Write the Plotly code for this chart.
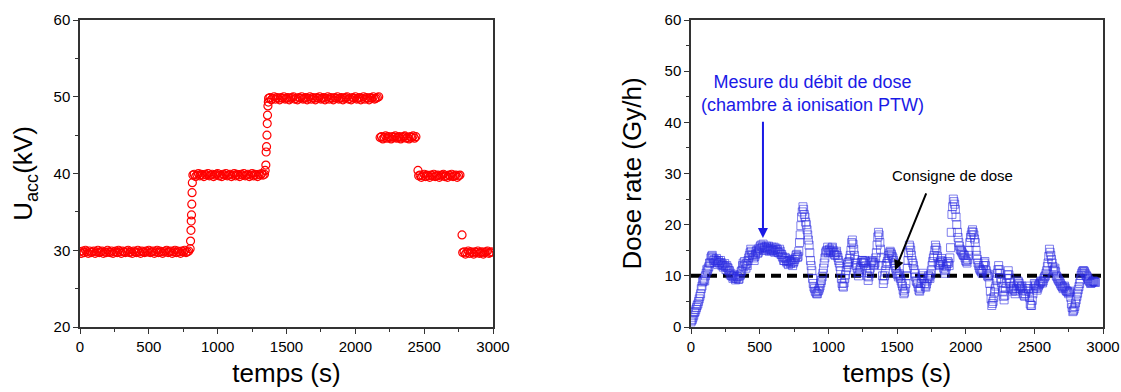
import plotly.graph_objects as go

# ---------------- Left panel data (U_acc vs time) ----------------
t_a = list(range(0, 800, 10))
u_a = [29.8, 29.6, 29.9, 29.7, 30.0, 29.8, 29.6, 29.9, 29.7, 29.8,
       29.9, 29.6, 29.8, 30.0, 29.7, 29.8, 29.9, 29.6, 29.8, 29.7,
       30.0, 29.8, 29.7, 29.9, 29.6, 29.8, 29.9, 29.7, 30.0, 29.8,
       29.6, 29.9, 29.8, 29.7, 29.9, 30.0, 29.7, 29.8, 29.6, 29.9,
       29.8, 29.7, 30.0, 29.8, 29.6, 29.9, 29.8, 29.7, 29.9, 29.8,
       30.0, 29.7, 29.8, 29.9, 29.6, 29.8, 30.0, 29.7, 29.9, 29.8,
       29.6, 29.8, 29.9, 30.0, 29.7, 29.8, 29.9, 29.6, 29.8, 30.0,
       29.7, 29.9, 29.8, 29.6, 29.9, 29.8, 30.0, 29.7, 29.8, 29.9]
t_ab = [800, 803, 806, 808, 810, 812, 814, 816]
u_ab = [30.2, 31.2, 32.6, 33.8, 34.6, 36.0, 37.5, 38.8]
t_b = list(range(820, 1345, 10))
u_b = [39.8, 39.9, 39.6, 39.8, 40.0, 39.7, 39.9, 39.8, 39.6, 39.9,
       39.8, 40.0, 39.7, 39.8, 39.9, 39.6, 39.8, 39.9, 40.0, 39.7,
       39.8, 39.6, 39.9, 39.8, 40.0, 39.7, 39.8, 39.9, 39.6, 39.8,
       40.0, 39.7, 39.9, 39.8, 39.6, 39.9, 39.8, 40.0, 39.7, 39.8,
       39.9, 39.6, 39.8, 40.0, 39.7, 39.9, 39.8, 39.6, 39.9, 39.8,
       40.0, 39.8, 39.9]
t_bc = [1345, 1350, 1352, 1355, 1358, 1360, 1362, 1365, 1368]
u_bc = [40.4, 41.1, 42.8, 43.5, 45.0, 46.5, 47.6, 48.8, 49.3]
t_c = list(range(1370, 2180, 10))
u_c = [49.8, 49.9, 49.6, 49.8, 50.0, 49.7, 49.9, 49.8, 49.6, 49.9,
       49.8, 50.0, 49.7, 49.8, 49.9, 49.6, 49.8, 49.9, 50.0, 49.7,
       49.8, 49.6, 49.9, 49.8, 50.0, 49.7, 49.8, 49.9, 49.6, 49.8,
       50.0, 49.7, 49.9, 49.8, 49.6, 49.9, 49.8, 50.0, 49.7, 49.8,
       49.9, 49.6, 49.8, 50.0, 49.7, 49.9, 49.8, 49.6, 49.9, 49.8,
       50.0, 49.7, 49.8, 49.9, 49.6, 49.8, 49.9, 50.0, 49.7, 49.8,
       49.6, 49.9, 49.8, 50.0, 49.7, 49.8, 49.9, 49.6, 49.8, 50.0,
       49.7, 49.9, 49.8, 49.6, 49.9, 49.8, 50.0, 49.7, 49.8, 49.9,
       50.0]
t_d = list(range(2180, 2450, 10))
u_d = [44.7, 44.8, 44.5, 44.7, 44.9, 44.6, 44.8, 44.7, 44.5, 44.8,
       44.7, 44.9, 44.6, 44.7, 44.8, 44.5, 44.7, 44.8, 44.9, 44.6,
       44.7, 44.5, 44.8, 44.7, 44.9, 44.6, 44.8]
t_de = [2455]
u_de = [40.4]
t_e = list(range(2460, 2770, 10))
u_e = [39.7, 39.8, 39.5, 39.7, 39.9, 39.6, 39.8, 39.7, 39.5, 39.8,
       39.7, 39.9, 39.6, 39.7, 39.8, 39.5, 39.7, 39.8, 39.9, 39.6,
       39.7, 39.5, 39.8, 39.7, 39.9, 39.6, 39.7, 39.8, 39.5, 39.7,
       39.8]
t_ef = [2775]
u_ef = [32.0]
t_f = list(range(2780, 3000, 10))
u_f = [29.7, 29.8, 29.5, 29.7, 29.9, 29.6, 29.8, 29.7, 29.5, 29.8,
       29.7, 29.9, 29.6, 29.7, 29.8, 29.5, 29.7, 29.8, 29.9, 29.6,
       29.7, 29.8]

t_left = t_a + t_ab + t_b + t_bc + t_c + t_d + t_de + t_e + t_ef + t_f
u_left = u_a + u_ab + u_b + u_bc + u_c + u_d + u_de + u_e + u_ef + u_f

# ---------------- Right panel data (dose rate vs time) ----------------
t_right_a = list(range(0, 2950, 10))
dose_a = [1.0, 1.5, 2.3, 3.0, 3.8, 4.5, 5.5, 6.5, 8.0, 9.0,
          9.0, 10.5, 11.0, 11.8, 12.5, 13.8, 13.5, 13.2, 13.0, 12.8,
          13.0, 12.5, 12.6, 12.2, 12.0, 11.8, 12.0, 11.5, 11.0, 10.5,
          10.0, 9.8, 9.6, 9.5, 9.8, 9.4, 10.2, 11.0, 12.5, 12.8,
          11.5, 12.0, 13.5, 14.5, 14.8, 14.0, 13.0, 14.2, 15.0, 14.6,
          15.2, 16.0, 15.6, 15.0, 15.5, 15.8, 15.2, 14.8, 15.3, 15.6,
          15.0, 14.6, 15.4, 15.1, 14.5, 14.8, 14.2, 13.5, 13.0, 13.4,
          12.5, 12.2, 13.0, 12.6, 12.0, 12.8, 13.5, 14.2, 13.8, 16.5,
          19.8, 22.5, 23.0, 21.5, 20.0, 18.0, 16.0, 13.0, 11.0, 8.5,
          7.5, 6.8, 6.5, 7.2, 8.0, 9.1, 10.5, 12.5, 14.5, 15.0,
          14.5, 15.2, 14.8, 15.6, 14.6, 14.0, 14.8, 13.6, 12.5, 11.0,
          8.5, 7.8, 9.5, 11.0, 12.2, 12.8, 14.0, 16.5, 16.2, 14.0,
          12.5, 11.5, 10.0, 11.2, 12.6, 13.0, 12.4, 12.8, 11.0, 9.1,
          10.5, 12.5, 13.0, 12.0, 12.5, 14.5, 17.6, 18.0, 15.2, 12.0,
          8.5, 10.0, 12.0, 12.8, 14.0, 14.8, 14.2, 13.5, 12.5, 11.5,
          10.5, 9.8, 10.0, 9.0, 8.0, 6.5, 7.5, 10.0, 13.0, 16.0,
          15.0, 13.0, 12.0, 10.5, 9.0, 8.5, 7.2, 7.5, 9.5, 10.5,
          8.5, 7.8, 9.0, 10.0, 9.5, 11.0, 12.8, 14.0, 16.0, 15.0,
          12.5, 12.0, 13.0, 12.8, 11.5, 10.5, 11.8, 12.8, 12.0, 15.5,
          22.0, 25.0, 24.0, 21.5, 18.5, 16.5, 15.2, 14.8, 14.2, 14.0,
          13.0, 12.5, 14.0, 16.5, 18.0, 19.0, 18.0, 16.5, 14.0, 12.5,
          11.5, 11.0, 10.5, 12.0, 12.8, 11.0, 10.0, 10.2, 7.0, 4.2,
          5.0, 6.8, 8.0, 10.5, 12.0, 10.5, 8.7, 7.0, 5.3, 7.5,
          9.5, 11.0, 9.5, 7.8, 7.0, 8.0, 6.5, 7.5, 9.0, 8.5,
          7.5, 8.0, 6.5, 6.0, 7.0, 8.0, 7.0, 4.5, 4.2, 6.5,
          8.5, 8.0, 7.2, 8.0, 8.5, 9.0, 8.6, 9.5, 10.0, 11.0,
          12.5, 15.2, 14.0, 12.5, 11.0, 11.5, 10.0, 9.5, 9.0, 8.5,
          8.0, 7.5, 8.0, 7.2, 7.0, 6.5, 7.0, 4.5, 3.0, 3.5,
          4.7, 6.0, 7.3, 8.5, 10.1, 10.8, 11.0, 10.5, 10.0, 9.5,
          9.0, 8.5, 8.7, 9.0, 8.8]
t_right_b = list(range(5, 2950, 10))
dose_b = [1.3, 1.9, 2.8, 3.4, 4.2, 5.0, 6.0, 7.5, 8.8, 9.3,
          10.0, 11.2, 11.5, 12.5, 13.5, 14.0, 13.0, 12.6, 13.4, 12.2,
          12.5, 13.0, 12.0, 11.7, 12.4, 11.2, 11.6, 11.0, 10.2, 10.0,
          9.5, 10.2, 9.2, 9.9, 9.3, 10.0, 10.8, 12.0, 11.8, 12.2,
          12.4, 13.0, 14.0, 15.2, 14.2, 13.5, 13.8, 14.8, 14.4, 15.4,
          15.8, 15.4, 16.2, 15.6, 15.0, 15.4, 15.8, 15.2, 14.9, 15.0,
          15.6, 15.2, 14.8, 14.6, 15.2, 14.2, 13.8, 13.0, 13.6, 12.8,
          13.0, 12.8, 12.4, 13.2, 12.5, 13.2, 14.0, 13.6, 14.8, 18.0,
          21.5, 23.5, 22.0, 20.5, 19.0, 17.0, 14.5, 12.0, 9.5, 7.8,
          7.0, 6.5, 7.0, 7.6, 8.6, 9.8, 11.5, 13.5, 14.8, 15.6,
          15.0, 14.6, 15.4, 15.0, 14.2, 14.5, 14.0, 13.0, 11.8, 9.5,
          8.0, 8.6, 10.2, 11.6, 12.6, 13.4, 15.0, 17.0, 15.2, 13.2,
          12.0, 10.6, 10.6, 11.8, 13.0, 12.6, 13.0, 12.0, 10.0, 9.8,
          11.5, 12.8, 12.6, 12.2, 13.5, 16.0, 18.5, 16.5, 13.5, 10.0,
          9.2, 11.0, 12.4, 13.4, 14.5, 14.5, 13.8, 13.0, 12.0, 11.0,
          10.2, 10.4, 9.5, 8.5, 7.2, 6.8, 8.5, 11.5, 14.5, 15.6,
          14.0, 12.5, 11.2, 9.8, 8.8, 7.8, 7.0, 8.5, 10.0, 9.5,
          8.0, 8.4, 9.5, 9.8, 10.2, 12.0, 13.5, 15.0, 15.5, 13.8,
          12.2, 12.6, 13.4, 12.2, 11.0, 11.2, 12.4, 12.5, 13.5, 18.5,
          23.5, 24.5, 23.0, 20.0, 17.5, 15.8, 15.0, 14.5, 14.0, 13.5,
          12.8, 13.2, 15.0, 17.5, 18.6, 18.5, 17.2, 15.0, 13.2, 12.0,
          11.2, 10.8, 11.2, 12.5, 12.0, 10.5, 9.8, 8.5, 5.5, 4.6,
          5.8, 7.5, 9.2, 11.2, 11.2, 9.5, 7.8, 6.0, 6.2, 8.5,
          10.2, 10.2, 8.6, 7.4, 7.5, 7.2, 7.0, 8.2, 8.8, 8.0,
          7.8, 7.2, 6.2, 6.5, 7.5, 7.5, 5.8, 4.2, 5.2, 7.5,
          8.2, 7.6, 7.6, 8.3, 8.8, 8.8, 9.0, 9.8, 10.5, 11.8,
          13.8, 14.6, 13.2, 11.8, 11.2, 10.8, 9.8, 9.2, 8.8, 8.2,
          7.8, 7.8, 7.6, 7.0, 6.8, 6.8, 5.8, 3.8, 3.2, 4.0,
          5.3, 6.6, 7.9, 9.2, 10.5, 11.0, 10.8, 10.2, 9.8, 9.2,
          8.8, 8.6, 8.9, 8.9, 8.7]

setpoint_t = [0, 3000]
setpoint = [10, 10]

x_ticks = [0, 500, 1000, 1500, 2000, 2500, 3000]

FONT = "Liberation Sans, Arial, sans-serif"

fig = go.Figure()

fig.add_trace(go.Scatter(
    x=t_left, y=u_left, mode="markers", xaxis="x", yaxis="y",
    marker=dict(symbol="circle-open", color="#ff0000", size=8,
                line=dict(width=1.2, color="#ff0000")),
    showlegend=False))

fig.add_trace(go.Scatter(
    x=setpoint_t, y=setpoint, mode="lines", xaxis="x2", yaxis="y2",
    line=dict(color="black", width=4, dash="10px,6px"),
    showlegend=False))

fig.add_trace(go.Scatter(
    x=t_right_a + t_right_b, y=dose_a + dose_b, mode="markers", xaxis="x2", yaxis="y2",
    marker=dict(symbol="square-open", color="rgba(45,45,225,0.6)", size=8,
                line=dict(width=1, color="rgba(45,45,225,0.6)")),
    showlegend=False))

axis_common = dict(
    showline=True, linecolor="#333333", linewidth=1.5, mirror=True,
    ticks="outside", ticklen=5, tickwidth=1.2, tickcolor="#333333",
    showgrid=False, zeroline=False, automargin=False,
    tickfont=dict(family=FONT, size=15, color="black"),
)

W, H = 1121, 392

fig.update_layout(
    width=W, height=H,
    margin=dict(l=0, r=0, t=0, b=0),
    plot_bgcolor="white", paper_bgcolor="white",
    font=dict(family=FONT, color="black"),
    xaxis=dict(domain=[80 / W, 493 / W], range=[0, 3000], tickvals=x_ticks,
               minor=dict(dtick=250, ticks="outside", ticklen=3, tickcolor="#333333"),
               title=dict(text="temps (s)", font=dict(family=FONT, size=26), standoff=10),
               anchor="y", **axis_common),
    yaxis=dict(domain=[1 - 327 / H, 1 - 20 / H], range=[20, 60], dtick=10,
               minor=dict(dtick=5, ticks="outside", ticklen=3, tickcolor="#333333"),
               title=dict(text="U<sub>acc</sub>(kV)", font=dict(family=FONT, size=26), standoff=13),
               anchor="x", **axis_common),
    xaxis2=dict(domain=[691 / W, 1103 / W], range=[0, 3000], tickvals=x_ticks,
                minor=dict(dtick=250, ticks="outside", ticklen=3, tickcolor="#333333"),
                title=dict(text="temps (s)", font=dict(family=FONT, size=26), standoff=10),
                anchor="y2", **axis_common),
    yaxis2=dict(domain=[1 - 327 / H, 1 - 20 / H], range=[0, 60], dtick=10,
                minor=dict(dtick=5, ticks="outside", ticklen=3, tickcolor="#333333"),
                title=dict(text="Dose rate (Gy/h)", font=dict(family=FONT, size=26), standoff=15),
                anchor="x2", **axis_common),
)

fig.add_annotation(
    xref="x2", yref="y2", x=885, y=45.7,
    text="Mesure du débit de dose<br>(chambre à ionisation PTW)",
    showarrow=False, font=dict(family=FONT, size=18, color="#1a1ae6"),
    align="center")
fig.add_annotation(
    xref="x2", yref="y2", x=524, y=17.4, ax=524, ay=40.4,
    axref="x2", ayref="y2", text="", showarrow=True,
    arrowhead=2, arrowsize=1, arrowwidth=2, arrowcolor="#1a1ae6")
fig.add_annotation(
    xref="x2", yref="y2", x=1905, y=29.7,
    text="Consigne de dose", showarrow=False,
    font=dict(family=FONT, size=15, color="black"))
fig.add_annotation(
    xref="x2", yref="y2", x=1486, y=11.1, ax=1717, ay=26.4,
    axref="x2", ayref="y2", text="", showarrow=True,
    arrowhead=2, arrowsize=1, arrowwidth=2, arrowcolor="black")

fig.write_html(
    "out.html",
    config={"displayModeBar": False},
    post_script="document.body.style.margin='0';"
                "document.documentElement.style.overflow='hidden';"
                "document.body.style.overflow='hidden';")
